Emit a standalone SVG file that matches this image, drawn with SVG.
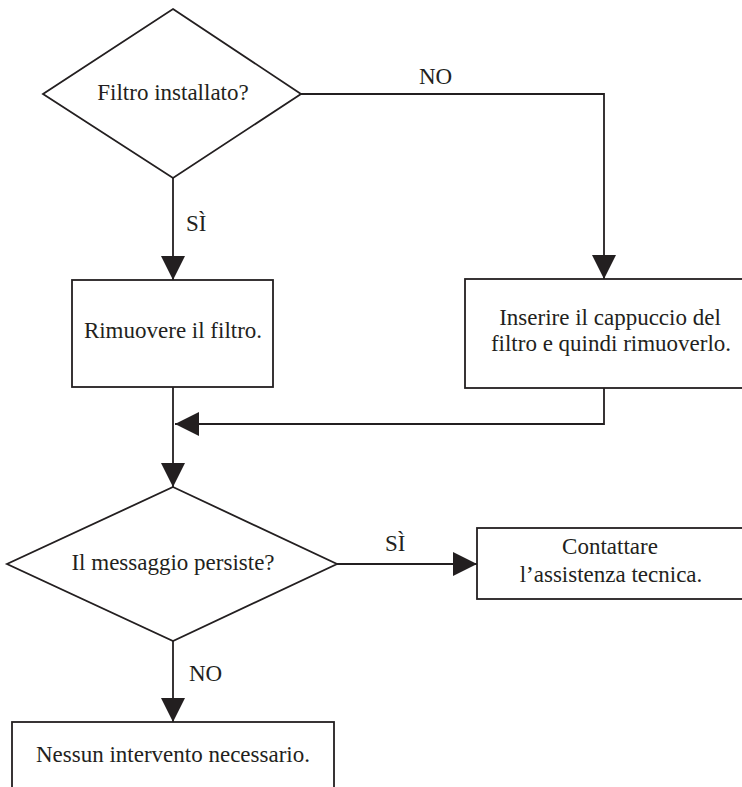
<svg xmlns="http://www.w3.org/2000/svg" width="742" height="787" viewBox="0 0 742 787">
<style>
.shape{fill:#ffffff;stroke:#231f20;stroke-width:1.8}
.conn{fill:none;stroke:#231f20;stroke-width:1.8}
text{font-family:"Liberation Serif","Times New Roman",serif;font-size:23px;fill:#231f20}
.c{text-anchor:middle}
</style>
<defs>
<marker id="arr" viewBox="0 0 24 24" markerUnits="userSpaceOnUse" markerWidth="24" markerHeight="24" refX="24" refY="12" orient="auto">
<path d="M0,0 L24,12 L0,24 z" fill="#231f20"/>
</marker>
</defs>
<rect width="742" height="787" fill="#ffffff"/>
<g id="connectors">
<path class="conn" d="M173,178 V280" marker-end="url(#arr)"/>
<path class="conn" d="M301,94 H604 V279" marker-end="url(#arr)"/>
<path class="conn" d="M173,387 V487" marker-end="url(#arr)"/>
<path class="conn" d="M604,388 V424 H175" marker-end="url(#arr)"/>
<path class="conn" d="M337,564 H477" marker-end="url(#arr)"/>
<path class="conn" d="M173,641 V722" marker-end="url(#arr)"/>
<text x="186" y="231">SÌ</text>
<text x="419" y="84">NO</text>
<text x="385" y="551">SÌ</text>
<text x="189" y="681">NO</text>
</g>
<g id="d1">
<polygon class="shape" points="173,9 301,94 173,178 43,94"/>
<text class="c" x="173" y="100">Filtro installato?</text>
</g>
<g id="b1">
<rect class="shape" x="72" y="280" width="201" height="107"/>
<text class="c" x="173" y="338">Rimuovere il filtro.</text>
</g>
<g id="b2">
<rect class="shape" x="465" y="279" width="300" height="109"/>
<text class="c" x="610" y="325">Inserire il cappuccio del</text>
<text class="c" x="611" y="351">filtro e quindi rimuoverlo.</text>
</g>
<g id="d2">
<polygon class="shape" points="173,487 337,564 173,641 7,564"/>
<text class="c" x="173" y="570">Il messaggio persiste?</text>
</g>
<g id="b4">
<rect class="shape" x="477" y="528" width="300" height="71"/>
<text class="c" x="610" y="554">Contattare</text>
<text class="c" x="611" y="582">l’assistenza tecnica.</text>
</g>
<g id="b3">
<rect class="shape" x="12" y="722" width="322" height="80"/>
<text class="c" x="173" y="762">Nessun intervento necessario.</text>
</g>
</svg>
